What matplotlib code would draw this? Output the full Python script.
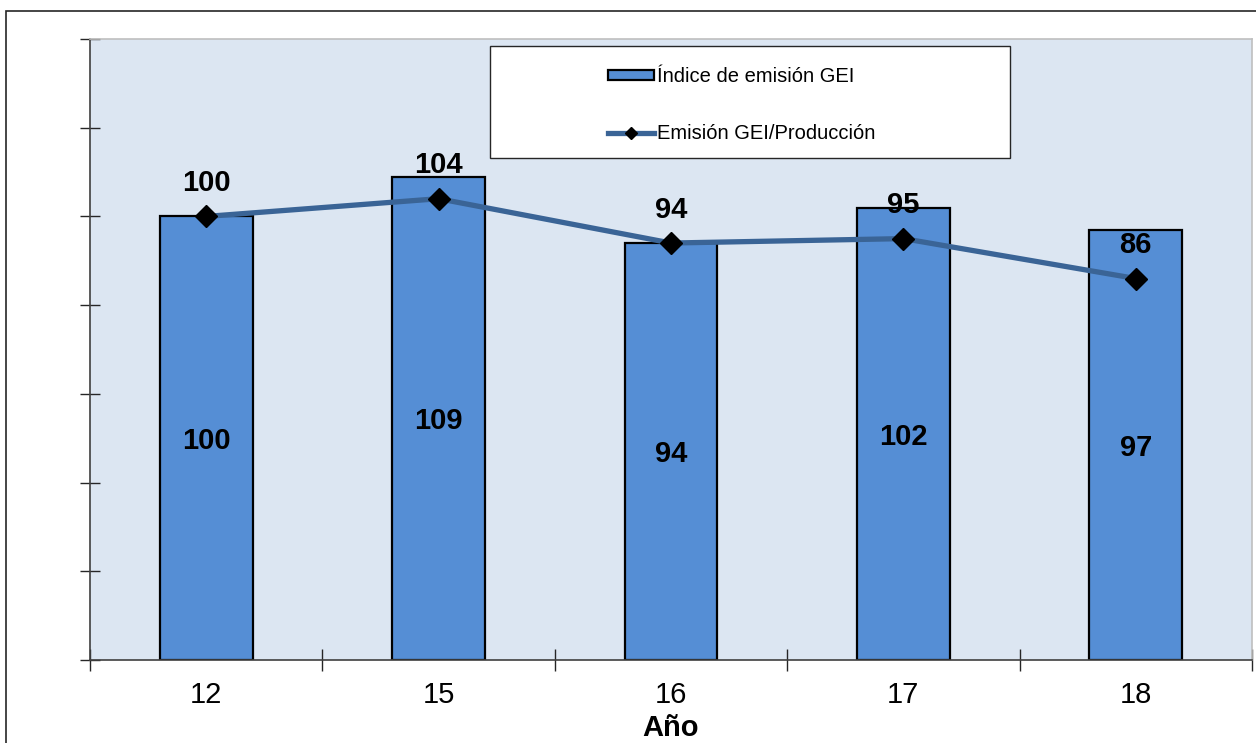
import matplotlib.pyplot as plt
from matplotlib.patches import Rectangle
from matplotlib.lines import Line2D
from matplotlib.patches import Patch

plt.rcParams['font.family'] = ['Liberation Sans', 'DejaVu Sans']

years = ['12', '15', '16', '17', '18']
indice_emision = [100, 109, 94, 102, 97]
emision_produccion = [100, 104, 94, 95, 86]

W, H = 1256, 743
fig = plt.figure(figsize=(W / 100, H / 100), dpi=100)
fig.patch.set_facecolor('white')

# outer chart frame
fig.add_artist(Rectangle((6 / W, -0.05), 1.2, 1 - 11 / H + 0.05,
                         transform=fig.transFigure, fill=False,
                         edgecolor='#262626', linewidth=1.2))

ax = fig.add_axes([90 / W, 1 - 660 / H, (1252 - 90) / W, (660 - 39) / H])
ax.set_facecolor('#DCE6F2')

x = list(range(len(years)))
ax.bar(x, indice_emision, width=0.40, color='#558ED5', edgecolor='black',
       linewidth=1.6, zorder=2)
ax.plot(x, emision_produccion, color='#3A6496', linewidth=3.8,
        marker='D', markersize=11, markerfacecolor='black',
        markeredgecolor='black', zorder=3)

for xi, v in zip(x, indice_emision):
    ax.annotate(f'{v}', (xi, v / 2), xytext=(0, -2), textcoords='offset points',
                ha='center', va='center', fontsize=21,
                fontweight='bold', color='black', zorder=4)
for xi, v in zip(x, emision_produccion):
    ax.annotate(f'{v}', (xi, v), xytext=(0, 24), textcoords='offset points',
                ha='center', va='center', fontsize=21, fontweight='bold',
                color='black', zorder=4)

ax.set_xlim(-0.5, len(years) - 0.5)
ax.set_ylim(0, 140)
ax.set_yticks(range(0, 141, 20))
ax.set_yticklabels([])
ax.set_xticks([i - 0.5 for i in range(len(years) + 1)])
ax.set_xticklabels([])
ax.set_xticks(x, minor=True)
ax.set_xticklabels(years, minor=True, fontsize=21)
ax.tick_params(axis='x', which='major', direction='inout', length=16,
               width=1, color='#262626')
ax.tick_params(axis='x', which='minor', length=0, pad=15)
ax.tick_params(axis='y', which='major', direction='inout', length=14,
               width=1, color='#262626')
ax.set_xlabel('Año', fontsize=21, fontweight='bold', labelpad=4)

for s in ['left', 'bottom']:
    ax.spines[s].set_color('#404040')
    ax.spines[s].set_linewidth(1.2)
for s in ['top', 'right']:
    ax.spines[s].set_color('#BFBFBF')
    ax.spines[s].set_linewidth(1.2)

# legend box
fig.add_artist(Rectangle((490 / W, 1 - 158 / H), 520 / W, 112 / H,
                         transform=fig.transFigure, facecolor='white',
                         edgecolor='#262626', linewidth=1.0, zorder=5))
handles = [
    Patch(facecolor='#558ED5', edgecolor='black', linewidth=1.6),
    Line2D([], [], color='#3A6496', linewidth=3.8, marker='D',
           markersize=6, markerfacecolor='black', markeredgecolor='black'),
]
labels = ['Índice de emisión GEI', 'Emisión GEI/Producción']
leg = fig.legend(handles, labels, loc='upper left',
                 bbox_to_anchor=(598 / W, 1 - 57 / H), frameon=False,
                 fontsize=14.5, handlelength=2.3, handleheight=0.4,
                 handletextpad=0.15, labelspacing=1.9, borderpad=0)
leg.set_zorder(6)

fig.savefig('out.png', dpi=100)
